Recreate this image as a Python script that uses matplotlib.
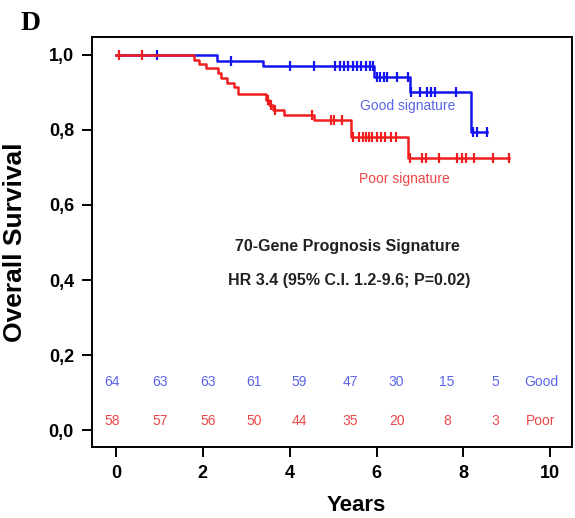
import numpy as np
import matplotlib
matplotlib.use("Agg")
import matplotlib.pyplot as plt

plt.rcParams['font.family'] = ['Liberation Sans', 'DejaVu Sans']

# ---- Kaplan-Meier steps ----
good_t = [0, 2.32, 3.39, 5.94, 6.76, 8.17, 8.55]
good_s = [1.0, 0.984, 0.969, 0.942, 0.902, 0.794, 0.794]
good_cens = [0.95, 2.65, 4.01, 4.56, 5.05, 5.15, 5.25, 5.35, 5.45, 5.55, 5.65,
             5.75, 5.85, 5.91, 6.0, 6.08, 6.16, 6.24, 6.47, 6.72, 6.8, 7.01,
             7.15, 7.25, 7.35, 7.82, 8.22, 8.32, 8.55]

poor_t = [0, 1.79, 1.92, 2.07, 2.34, 2.42, 2.55, 2.72, 2.80, 3.45, 3.53, 3.61,
          3.87, 4.56, 5.41, 6.72, 9.05]
poor_s = [1.0, 0.987, 0.976, 0.964, 0.951, 0.938, 0.924, 0.913, 0.895, 0.88,
          0.867, 0.853, 0.84, 0.826, 0.78, 0.725, 0.725]
poor_cens = [0.06, 0.6, 3.49, 3.57, 3.66, 4.52, 4.95, 5.03, 5.21, 5.45, 5.6,
             5.68, 5.75, 5.82, 5.9, 6.0, 6.1, 6.2, 6.32, 6.44, 6.76, 7.05,
             7.13, 7.44, 7.86, 7.97, 8.05, 8.24, 8.68, 9.05]

# numbers at risk
risk_x = [-0.09, 1.02, 2.12, 3.18, 4.22, 5.39, 6.46, 7.62, 8.74]
risk_good = [64, 63, 63, 61, 59, 47, 30, 15, 5]
risk_poor = [58, 57, 56, 50, 44, 35, 20, 8, 3]

xticks = [0, 2, 4, 6, 8, 10]
yticks = [0.0, 0.2, 0.4, 0.6, 0.8, 1.0]
ylabels = ["0,0", "0,2", "0,4", "0,6", "0,8", "1,0"]

BLUE, RED = "#1414f0", "#f01e1e"
BLUE_TXT, RED_TXT = "#5a64e6", "#ec4646"


def surv_at(t, times, surv):
    i = np.searchsorted(times, t, side="right") - 1
    return np.asarray(surv)[i]


fig = plt.figure(figsize=(5.75, 5.18), dpi=100)
ax = fig.add_axes([0.16, 0.137, 0.835, 0.792])

for t, s, c, col in ((good_t, good_s, good_cens, BLUE), (poor_t, poor_s, poor_cens, RED)):
    ax.plot(t, s, drawstyle="steps-post", color=col, lw=1.8)
    ax.plot(c, surv_at(c, t, s), ls="none", marker="|", ms=7.5, mew=1.6, color=col)

ax.text(6.72, 0.864, "Good signature", color=BLUE_TXT, fontsize=10, ha="center", va="center")
ax.text(6.63, 0.669, "Poor signature", color=RED_TXT, fontsize=10, ha="center", va="center")
ax.text(5.32, 0.489, "70-Gene Prognosis Signature", fontsize=11.5, fontweight="bold",
        color="#222222", ha="center", va="center")
ax.text(5.37, 0.40, "HR 3.4 (95% C.I. 1.2-9.6; P=0.02)", fontsize=11.5, fontweight="bold",
        color="#222222", ha="center", va="center")

for x, g, p in zip(risk_x, risk_good, risk_poor):
    ax.text(x, 0.128, str(g), color=BLUE_TXT, fontsize=10, ha="center", va="center")
    ax.text(x, 0.025, str(p), color=RED_TXT, fontsize=10, ha="center", va="center")
ax.text(9.78, 0.128, "Good", color=BLUE_TXT, fontsize=10, ha="center", va="center")
ax.text(9.78, 0.025, "Poor", color=RED_TXT, fontsize=10, ha="center", va="center")

ax.set_xlim(-0.55, 10.5)
ax.set_ylim(-0.045, 1.048)
ax.set_xticks(xticks)
ax.set_xticklabels([str(v) for v in xticks], fontsize=13, fontweight="bold")
ax.set_yticks(yticks)
ax.set_yticklabels(ylabels, fontsize=13, fontweight="bold")
ax.tick_params(direction="out", length=7, width=1.4, pad=6)
for sp in ax.spines.values():
    sp.set_linewidth(1.4)

ax.set_ylabel("Overall Survival", fontsize=19, fontweight="bold")
ax.yaxis.set_label_coords(-0.135, 0.5)
ax.set_xlabel("Years", fontsize=16, fontweight="bold", va="bottom")
ax.xaxis.set_label_coords(0.55, -0.168)

fig.text(0.035, 0.955, "D", fontsize=20, fontweight="bold", family="Liberation Serif",
         ha="left", va="center")

fig.savefig("out.png", dpi=100)
